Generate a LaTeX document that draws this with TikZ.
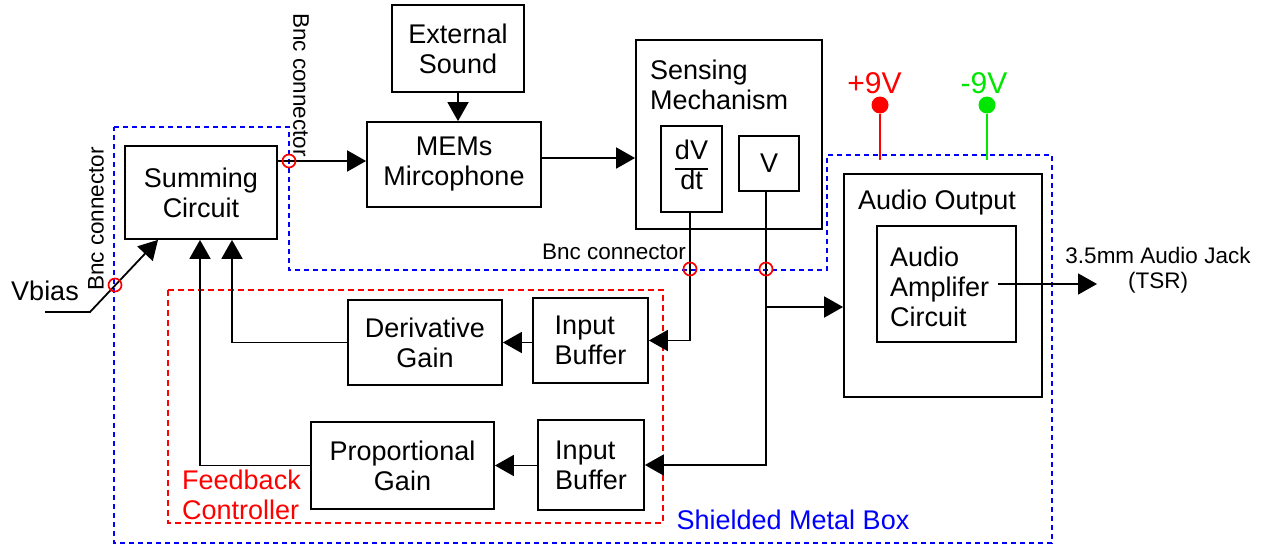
\documentclass[tikz,border=0pt]{standalone}
\usepackage{fontspec}
\setmainfont{Liberation Sans}
\usetikzlibrary{arrows.meta}
\newcommand\mainsz{\fontsize{27}{30}\selectfont}
\newcommand\smallsz{\fontsize{22.5}{25}\selectfont}
\newcommand\voltsz{\fontsize{30}{33}\selectfont}
\definecolor{vgreen}{RGB}{0,230,0}
\tikzset{
  box/.style={draw, line width=1.8pt, inner sep=0pt, align=center, font=\mainsz},
  lbl/.style={inner sep=0pt, font=\mainsz},
  smalllbl/.style={inner sep=0pt, font=\smallsz},
  conn/.style={line width=1.8pt},
  arr/.style={conn, -{Triangle[length=19pt,width=21pt]}},
  bnc/.style={circle, draw=red, line width=1.7pt, minimum size=13pt, inner sep=0pt},
  dot/.style={circle, inner sep=0pt, minimum size=17pt},
  shield/.style={draw=blue, line width=2.5pt, dash pattern=on 5pt off 4pt},
  fbbox/.style={draw=red, line width=2pt, dash pattern=on 6pt off 4pt},
}
\begin{document}
\begin{tikzpicture}[x=1pt,y=-1pt]
\useasboundingbox (0,0) rectangle (1263,546);

% shielded enclosure and feedback controller outline
\draw[shield] (114,127) -- (289,127) -- (289,270) -- (827,270) -- (827,155)
  -- (1052,155) -- (1052,543) -- (114,543) -- cycle;
\draw[fbbox] (168,290) rectangle (663,523);
\node[lbl, text=blue] (shieldlbl) at (793,520) {Shielded Metal Box};
\node[lbl, text=red, anchor=west, align=left] (fblbl) at (182,495) {Feedback\\Controller};

% connector points
\coordinate (bncL) at (115,285);
\coordinate (bncT) at (289,161);
\coordinate (bncD) at (690,269);
\coordinate (bncV) at (766,269);
\coordinate (vb0) at (45,312);
\coordinate (vb1) at (90,312);
\coordinate (vin) at (158,0);
\coordinate (m2s) at (0,158);
\coordinate (dx) at (232,0);
\coordinate (px) at (200,0);
\coordinate (br) at (766,307);
\coordinate (ampout) at (998,284);
\coordinate (jack) at (1097,284);
\coordinate (posend) at (880,160);
\coordinate (negend) at (987,160);

% blocks
\node[box, minimum width=152pt, minimum height=93pt] (sum) at (201,192.5) {Summing\\Circuit};
\node[box, minimum width=132pt, minimum height=87pt] (ext) at (458,48.5) {External\\Sound};
\node[box, minimum width=174pt, minimum height=85pt] (mems) at (454,164.5) {MEMs\\Mircophone};
\node[box, minimum width=186pt, minimum height=189pt] (sense) at (729,134.5) {};
\node[lbl, anchor=west, align=left] (senselbl) at (650,84.5) {Sensing\\Mechanism};
\node[box, minimum width=61pt, minimum height=86pt] (dvdt) at (691.5,169)
  {\setlength{\arrayrulewidth}{1.8pt}\renewcommand{\arraystretch}{0.95}%
   \begin{tabular}{@{}c@{}}dV\\\hline dt\end{tabular}};
\node[box, minimum width=60pt, minimum height=55pt] (vbox) at (769,163.5) {V};
\node[box, align=left, minimum width=115pt, minimum height=85pt] (ib1) at (590.5,340.5) {Input\\Buffer};
\node[box, minimum width=154pt, minimum height=85pt] (der) at (425,342.5) {Derivative\\Gain};
\node[box, align=left, minimum width=106pt, minimum height=90pt] (ib2) at (591,465) {Input\\Buffer};
\node[box, minimum width=183pt, minimum height=87pt] (prop) at (402.5,465.5) {Proportional\\Gain};
\node[box, minimum width=198pt, minimum height=223pt] (aout) at (943,285.5) {};
\node[lbl, anchor=west] (aoutlbl) at (858,203) {Audio Output};
\node[box, minimum width=139pt, minimum height=116pt] (amp) at (946.5,284) {};
\node[lbl, anchor=west, align=left] (amplbl) at (890,287) {Audio\\Amplifer\\Circuit};

% labels
\node[lbl] (vbias) at (45,291) {Vbias};
\node[smalllbl, rotate=90] (bnclblL) at (96,219) {Bnc connector};
\node[smalllbl, rotate=-90] (bnclblT) at (301,85) {Bnc connector};
\node[smalllbl] (bnclblD) at (614,252) {Bnc connector};
\node[smalllbl, align=center] (jacklbl) at (1158,270.5) {3.5mm Audio Jack\\(TSR)};

% signal connections
\draw[arr] (vb0) -- (vb1) -- (sum.south -| vin);
\draw[arr] (sum.east |- bncT) -- (mems.west |- bncT);
\draw[arr] (ext.south) -- (ext.south |- mems.north);
\draw[arr] (mems.east |- m2s) -- (sense.west |- m2s);
\draw[arr] (dvdt.south -| bncD) -- (bncD |- ib1.east) -- (ib1.east);
\draw[arr] (ib1.west |- der.east) -- (der.east);
\draw[arr] (der.west) -| (sum.south -| dx);
\draw[arr] (vbox.south -| bncV) -- (bncV |- ib2.east) -- (ib2.east);
\draw[arr] (ib2.west |- prop.east) -- (prop.east);
\draw[arr] (prop.west) -| (sum.south -| px);
\draw[arr] (br) -- (aout.west |- br);
\draw[arr] (ampout) -- (jack);

% BNC feed-throughs
\node[bnc] (ringL) at (bncL) {};
\node[bnc] (ringT) at (bncT) {};
\node[bnc] (ringD) at (bncD) {};
\node[bnc] (ringV) at (bncV) {};

% supply rails
\node[dot, fill=red] (pos) at (880,105) {};
\node[inner sep=0pt, font=\voltsz, text=red] (poslbl) at (874.5,83) {+9V};
\draw[conn, red] (pos) -- (posend);
\node[dot, fill=vgreen] (neg) at (987,105) {};
\node[inner sep=0pt, font=\voltsz, text=vgreen] (neglbl) at (984,83) {-9V};
\draw[conn, vgreen] (neg) -- (negend);
\end{tikzpicture}
\end{document}
